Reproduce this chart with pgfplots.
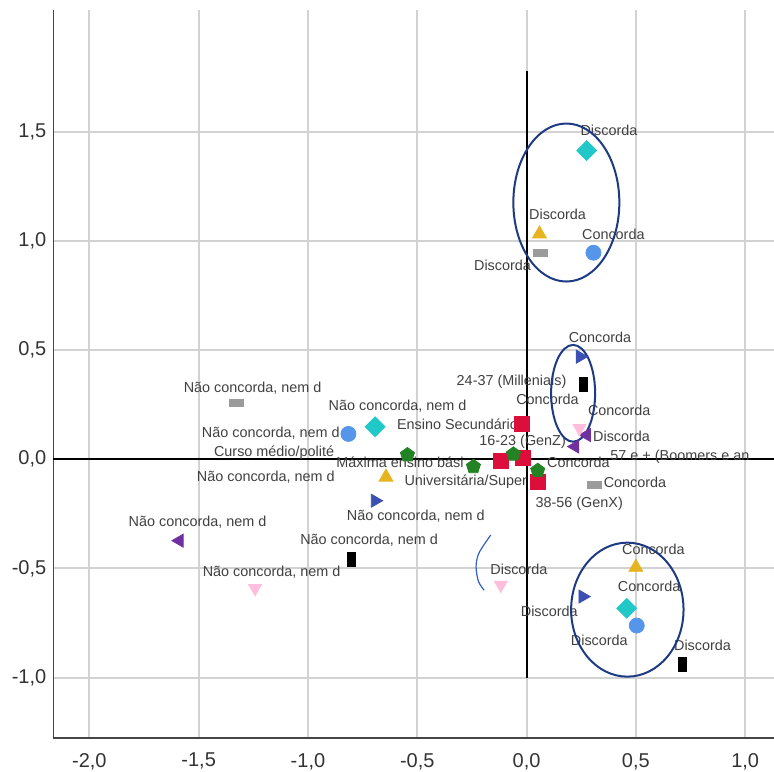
\documentclass[border=0pt]{standalone}
\usepackage{pgfplots}
\pgfplotsset{compat=1.18}
\usepackage{fontspec}
\setmainfont{Liberation Sans}

\definecolor{cTurq}{RGB}{32,200,200}
\definecolor{cGold}{RGB}{230,180,30}
\definecolor{cGrey}{RGB}{155,155,155}
\definecolor{cSky}{RGB}{85,150,235}
\definecolor{cNavyTri}{RGB}{60,80,180}
\definecolor{cPurple}{RGB}{112,48,160}
\definecolor{cPink}{RGB}{255,190,220}
\definecolor{cRed}{RGB}{220,15,60}
\definecolor{cGreen}{RGB}{35,130,35}
\definecolor{cRing}{RGB}{30,58,130}
\definecolor{cArc}{RGB}{50,95,195}
\definecolor{cGrid}{RGB}{210,210,210}
\definecolor{cAxis}{RGB}{70,70,70}

\begin{document}
\begin{tikzpicture}
\begin{axis}[
  at={(0,0)}, anchor=south west,
  scale only axis, width=360.35pt, height=364pt,
  xmin=-2.165, xmax=1.132, ymin=-1.277, ymax=2.058,
  axis x line=bottom, axis y line=left,
  axis line style={-, cAxis, line width=0.7pt},
  xtick={-2,-1.5,...,1.01}, ytick={-1,-0.5,...,1.51},
  major tick length=0pt,
  grid=major, major grid style={cGrid, line width=1pt},
  ticklabel style={font=\fontsize{10}{12}\selectfont, text=black!80},
  xticklabel style={yshift=-4pt},
  /pgf/number format/.cd, fixed, fixed zerofill, precision=1, use comma, assume math mode=true,
  /tikz/lbl/.style={font=\fontsize{7.2}{8}\selectfont, text=black!75, inner sep=0pt},
  clip=false,
]
% reference lines through the origin
\addplot[black, line width=1pt] coordinates {(-2.165,0) (1.132,0)};
\addplot[black, line width=1pt] coordinates {(0,-1.0) (0,1.779)};

% category points
\addplot[only marks, mark=square*, mark size=3.5pt, color=cTurq, mark options={rotate=45}]
  coordinates {(0.275,1.414) (-0.693,0.149) (0.458,-0.683)};
\addplot[only marks, mark=triangle*, mark size=4pt, color=cGold]
  coordinates {(0.059,1.032) (-0.643,-0.082) (0.5,-0.495)};
\addplot[only marks, mark=square*, mark size=3.5pt, color=cGrey, mark options={yscale=0.5}]
  coordinates {(0.062,0.946) (-1.329,0.257) (0.31,-0.119)};
\addplot[only marks, mark=*, mark size=3.75pt, color=cSky]
  coordinates {(0.306,0.946) (-0.815,0.116) (0.504,-0.762)};
\addplot[only marks, mark=triangle*, mark size=3.75pt, color=cNavyTri, mark options={rotate=-90}]
  coordinates {(0.245,0.47) (-0.693,-0.19) (0.257,-0.629)};
\addplot[only marks, mark=square*, mark size=3.5pt, color=black, mark options={xscale=0.57}]
  coordinates {(0.26,0.345) (-0.8,-0.458) (0.715,-0.939)};
\addplot[only marks, mark=triangle*, mark size=3.75pt, color=cPurple, mark options={rotate=90}]
  coordinates {(0.275,0.111) (0.222,0.058) (-1.588,-0.373)};
\addplot[only marks, mark=triangle*, mark size=3.75pt, color=cPink, mark options={rotate=180}]
  coordinates {(0.242,0.142) (-0.118,-0.576) (-1.242,-0.591)};
\addplot[only marks, mark=square*, mark size=3.75pt, color=cRed]
  coordinates {(-0.022,0.162) (-0.118,-0.008) (-0.017,0.005) (0.054,-0.103)};
\addplot[only marks, mark=pentagon*, mark size=3.7pt, color=cGreen]
  coordinates {(-0.545,0.02) (-0.243,-0.034) (-0.06,0.023) (0.051,-0.052)};

% point labels
\node[lbl] at (axis cs:0.377,1.505) {Discorda};
\node[lbl] at (axis cs:0.142,1.12) {Discorda};
\node[lbl] at (axis cs:-0.11,0.887) {Discorda};
\node[lbl] at (axis cs:0.397,1.03) {Concorda};
\node[lbl] at (axis cs:0.336,0.559) {Concorda};
\node[lbl, anchor=east] at (axis cs:0.184,0.353) {24-37 (Millenials)};
\node[lbl] at (axis cs:0.096,0.275) {Concorda};
\node[lbl] at (axis cs:0.424,0.223) {Concorda};
\node[lbl, anchor=west] at (axis cs:0.303,0.104) {Discorda};
\node[lbl, anchor=east] at (axis cs:-0.0375,0.162) {Ensino Secundário};
\node[lbl] at (axis cs:-0.018,0.081) {16-23 (GenZ)};
\node[lbl] at (axis cs:0.237,-0.016) {Concorda};
\node[lbl, anchor=west] at (axis cs:0.382,0.01) {57 e + (Boomers e an};
\node[lbl] at (axis cs:-0.278,-0.103) {Universitária/Super};
\node[lbl] at (axis cs:0.241,-0.202) {38-56 (GenX)};
\node[lbl] at (axis cs:0.496,-0.105) {Concorda};
\node[lbl] at (axis cs:-0.579,-0.016) {Máxima ensino bási};
\node[lbl] at (axis cs:-1.155,0.03) {Curso médio/polité};
\node[lbl] at (axis cs:-0.59,0.244) {Não concorda, nem d};
\node[lbl] at (axis cs:-1.17,0.119) {Não concorda, nem d};
\node[lbl] at (axis cs:-1.253,0.325) {Não concorda, nem d};
\node[lbl] at (axis cs:-1.193,-0.082) {Não concorda, nem d};
\node[lbl] at (axis cs:-0.507,-0.263) {Não concorda, nem d};
\node[lbl] at (axis cs:-1.505,-0.29) {Não concorda, nem d};
\node[lbl] at (axis cs:-0.72,-0.37) {Não concorda, nem d};
\node[lbl] at (axis cs:-1.166,-0.519) {Não concorda, nem d};
\node[lbl] at (axis cs:-0.035,-0.503) {Discorda};
\node[lbl] at (axis cs:0.104,-0.695) {Discorda};
\node[lbl] at (axis cs:0.58,-0.415) {Concorda};
\node[lbl] at (axis cs:0.561,-0.58) {Concorda};
\node[lbl] at (axis cs:0.333,-0.828) {Discorda};
\node[lbl] at (axis cs:0.805,-0.854) {Discorda};

% highlighted groups
\draw[cRing, line width=1pt] (axis cs:0.182,1.176) ellipse [x radius=26.5pt, y radius=39.5pt];
\draw[cRing, line width=1pt] (axis cs:0.213,0.302) ellipse [x radius=11pt, y radius=24.2pt];
\draw[cRing, line width=1pt] (axis cs:0.461,-0.689) ellipse [x radius=28.1pt, y radius=33.5pt];
\addplot[cArc, line width=0.6pt, smooth] coordinates {(-0.164,-0.347) (-0.218,-0.43) (-0.231,-0.492) (-0.22,-0.56) (-0.194,-0.6)};
\end{axis}
\pgfresetboundingbox
\path (-26.65pt,-16.5pt) rectangle (360.35pt,369pt);
\end{tikzpicture}
\end{document}
